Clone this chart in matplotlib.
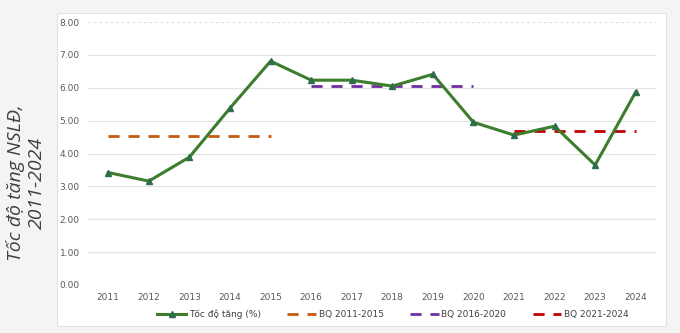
import matplotlib.pyplot as plt
from matplotlib.patches import Rectangle
import numpy as np

years = ['2011', '2012', '2013', '2014', '2015', '2016', '2017',
         '2018', '2019', '2020', '2021', '2022', '2023', '2024']
growth = [3.42, 3.16, 3.89, 5.38, 6.81, 6.23, 6.23, 6.05, 6.41, 4.95, 4.56, 4.83, 3.65, 5.87]

avg_labels = ['BQ 2011-2015', 'BQ 2016-2020', 'BQ 2021-2024']
avg_values = [4.53, 6.05, 4.68]
avg_ranges = [(0, 4), (5, 9), (10, 13)]
avg_colors = ['#c55a11', '#7030a0', '#c00000']

fig = plt.figure(figsize=(6.8, 3.33), dpi=100)
fig.patch.set_facecolor('#f4f4f4')
fig.add_artist(Rectangle((57 / 680, 1 - 326 / 333), 609 / 680, 313 / 333,
                         transform=fig.transFigure, facecolor='white',
                         edgecolor='#e2e2e2', linewidth=0.8, zorder=0))

ax = fig.add_axes([88 / 680, 1 - 285 / 333, 568 / 680, 263 / 333])
ax.set_facecolor('none')

x = np.arange(len(years))
ax.plot(x, growth, color='#3d7d2e', linewidth=2.2, marker='^', markersize=5,
        markerfacecolor='#2f6e4a', markeredgecolor='#2f6e4a', label='Tốc độ tăng (%)', zorder=3)
for lab, val, (a, b), col in zip(avg_labels, avg_values, avg_ranges, avg_colors):
    ax.plot([a, b], [val, val], color=col, linewidth=2, dashes=(4, 3.2), label=lab, zorder=2)

ax.set_xlim(-0.5, len(years) - 0.5)
ax.set_ylim(0, 8)
ax.set_yticks(np.arange(0, 9, 1))
ax.set_yticklabels(['%.2f' % v for v in np.arange(0, 9, 1)])
ax.set_xticks(x)
ax.set_xticklabels(years)
ax.tick_params(length=0, labelsize=6.5, labelcolor='#595959', pad=6)
for v in range(0, 8):
    ax.axhline(v, color='#e3e3e3', linewidth=0.9, zorder=1)
ax.axhline(8, color='#d9d9d9', linewidth=0.8, linestyle=(0, (2, 3)), zorder=1)
for s in ax.spines.values():
    s.set_visible(False)

fig.text(26 / 680, 1 - 183 / 333, 'Tốc độ tăng NSLĐ,\n2011-2024', rotation=90,
         ha='center', va='center', fontsize=14, style='italic', color='#404040',
         family='Open Sans', linespacing=1.15)

fig.legend(loc='center', bbox_to_anchor=(0.578, 1 - 314 / 333), ncol=4, frameon=False,
           fontsize=6.5, labelcolor='#404040', handlelength=3.2, columnspacing=2.9,
           handletextpad=0.3)

fig.savefig('out.png', dpi=100, facecolor=fig.get_facecolor())
